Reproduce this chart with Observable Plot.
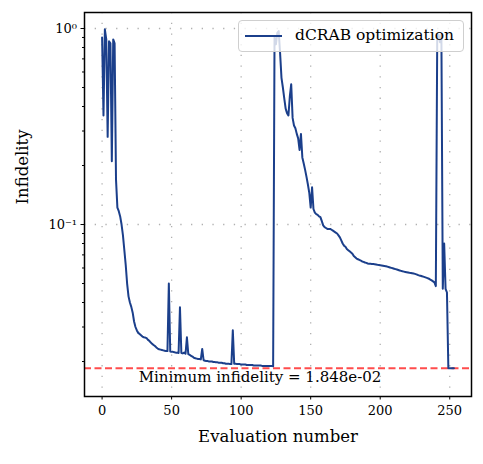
<!DOCTYPE html>
<html><head><meta charset="utf-8">
<script src="https://cdn.jsdelivr.net/npm/d3@7"></script>
<script src="https://cdn.jsdelivr.net/npm/@observablehq/plot@0.6"></script>
<style>
body{margin:0;background:#fff;}
#chart{position:relative;width:483px;height:464px;}
#legend{position:absolute;left:238px;top:20px;width:224px;height:30px;background:rgba(255,255,255,0.8);border:1px solid #cfcfcf;border-radius:4px;font-family:"DejaVu Serif";font-size:15.5px;}
#legend svg{position:absolute;left:0;top:0;}
#legend span{position:absolute;left:56px;top:5px;white-space:nowrap;}
</style></head><body><div id="chart"><div id="legend"></div></div>
<script>
// Infidelity per evaluation (index = evaluation number)
const infidelity = [
  0.90, 0.36, 0.99, 0.88, 0.28, 0.86, 0.84, 0.21, 0.88, 0.84, 0.17,
  0.122, 0.117, 0.110, 0.100, 0.088, 0.074, 0.062, 0.050, 0.043, 0.040,
  0.038, 0.0355, 0.032, 0.030, 0.0288, 0.0280, 0.0276, 0.0272, 0.0268, 0.0266,
  0.0265, 0.0263, 0.0258, 0.0255, 0.0250, 0.0246, 0.0243, 0.0240, 0.0236, 0.0233,
  0.0231, 0.0230, 0.0229, 0.0228, 0.0227, 0.0226, 0.0226, 0.0500, 0.0225, 0.0224,
  0.0224, 0.0223, 0.0222, 0.0222, 0.0221, 0.0378, 0.0221, 0.0220, 0.0222, 0.0219,
  0.0266, 0.0218, 0.0216, 0.0214, 0.0212, 0.0209, 0.0208, 0.0207, 0.0206, 0.0206,
  0.0205, 0.0232, 0.0203, 0.0202, 0.0201, 0.0201, 0.0200, 0.0200, 0.0200, 0.0199,
  0.0199, 0.0198, 0.0198, 0.0197, 0.0197, 0.0197, 0.0196, 0.0196, 0.0195, 0.0195,
  0.0195, 0.0194, 0.0194, 0.0289, 0.0195, 0.0195, 0.0194, 0.0194, 0.0194, 0.0193,
  0.0193, 0.0193, 0.0193, 0.0192, 0.0192, 0.0192, 0.0192, 0.0192, 0.0191, 0.0191,
  0.0191, 0.0191, 0.0191, 0.0191, 0.0190, 0.0190, 0.0190, 0.0190, 0.0190, 0.0190,
  0.0190, 0.0190, 0.0189,
  0.90, 0.83, 0.95, 0.97, 0.75, 0.56, 0.50,
  0.44, 0.39, 0.37, 0.36, 0.45, 0.52, 0.35, 0.32, 0.31, 0.29,
  0.275, 0.24, 0.29, 0.22, 0.205, 0.19, 0.175, 0.16, 0.145, 0.122,
  0.155, 0.12, 0.115, 0.113, 0.112, 0.110, 0.109, 0.104, 0.099, 0.097,
  0.096, 0.095, 0.095, 0.095, 0.094, 0.093, 0.092, 0.091, 0.090, 0.088,
  0.086, 0.083, 0.080, 0.078, 0.077, 0.075, 0.074, 0.073, 0.072, 0.071,
  0.069, 0.068, 0.067, 0.0665, 0.066, 0.0655, 0.0648, 0.0645, 0.0640, 0.0637,
  0.0633, 0.0631, 0.0630, 0.0629, 0.0628, 0.0627, 0.0625, 0.0623, 0.0622, 0.0620,
  0.0618, 0.0616, 0.0614, 0.0612, 0.0610, 0.0607, 0.0604, 0.0601, 0.0598, 0.0595,
  0.0592, 0.0589, 0.0586, 0.0583, 0.0580, 0.0577, 0.0575, 0.0573, 0.0571, 0.0569,
  0.0567, 0.0566, 0.0564, 0.0562, 0.0560, 0.0557, 0.0553, 0.0550, 0.0548, 0.0545,
  0.0542, 0.0539, 0.0536, 0.0533, 0.0529, 0.0524, 0.0519, 0.0513, 0.0507, 0.0485,
  0.88, 0.93, 0.85, 0.93, 0.047, 0.080, 0.047, 0.045, 0.01848, 0.01848,
  0.01848, 0.01848, 0.01848
];
const evaluations = infidelity.map((_, i) => i);
const xTicks = [0, 50, 100, 150, 200, 250];
const yMajorTicks = [1, 0.1];
const yMajorLabels = ["10\u2070", "10\u207B\u00B9"];
const yMinorTicks = [0.02, 0.03, 0.04, 0.05, 0.06, 0.07, 0.08, 0.09, 0.2, 0.3, 0.4, 0.5, 0.6, 0.7, 0.8, 0.9];
const minInfidelity = 0.01848;
const seriesLabel = "dCRAB optimization";
const minLabel = "Minimum infidelity = 1.848e-02";
const xLabel = "Evaluation number";
const yLabel = "Infidelity";

const lineColor = "#1b3f8b";
const data = evaluations.map(i => ({evaluation: i, infidelity: infidelity[i]}));
const font = "DejaVu Serif";

const plot = Plot.plot({
  width: 483, height: 464,
  marginLeft: 84, marginRight: 12, marginTop: 12, marginBottom: 68,
  style: {fontFamily: font, fontSize: "13px", background: "white", color: "black", overflow: "visible"},
  x: {domain: [-12.65, 265.65]},
  y: {type: "log", domain: [0.01326, 1.207]},
  marks: [
    Plot.gridX(xTicks, {stroke: "#b0b0b0", strokeOpacity: 1, strokeWidth: 1.3, strokeDasharray: "1.3,9.4"}),
    Plot.gridY(yMajorTicks, {stroke: "#b0b0b0", strokeOpacity: 1, strokeWidth: 1.3, strokeDasharray: "1.3,9.4"}),
    Plot.ruleY([minInfidelity], {stroke: "red", strokeOpacity: 0.7, strokeWidth: 1.8, strokeDasharray: "7,3.5"}),
    Plot.line(data, {x: "evaluation", y: "infidelity", stroke: lineColor, strokeWidth: 2}),
    Plot.text([minLabel], {frameAnchor: "bottom", dx: -18, dy: -15, fontSize: 15, fontFamily: font, fill: "black"}),
    Plot.frame({stroke: "black", strokeWidth: 1.5}),
    Plot.axisX(xTicks, {tickSize: 3.5, tickPadding: 6, fontSize: 13, fontFamily: font, label: null}),
    Plot.axisY(yMajorTicks, {tickSize: 3.5, tickPadding: 4, fontSize: 13, fontFamily: font, label: null,
      tickFormat: d => yMajorLabels[yMajorTicks.indexOf(d)]}),
    Plot.axisY(yMinorTicks, {tickSize: 2, tickFormat: () => "", label: null}),
    Plot.text([xLabel], {frameAnchor: "bottom", dy: 45, fontSize: 16.5, fontFamily: font, fill: "black"}),
    Plot.text([yLabel], {frameAnchor: "left", dx: -62, rotate: -90, fontSize: 16.5, fontFamily: font, fill: "black"})
  ]
});
const chart = document.getElementById("chart");
chart.insertBefore(plot, chart.firstChild);

const legend = document.getElementById("legend");
legend.innerHTML = `<svg width="60" height="30"><line x1="6" x2="43" y1="15" y2="15" stroke="${lineColor}" stroke-width="2"/></svg><span>${seriesLabel}</span>`;
</script></body></html>
